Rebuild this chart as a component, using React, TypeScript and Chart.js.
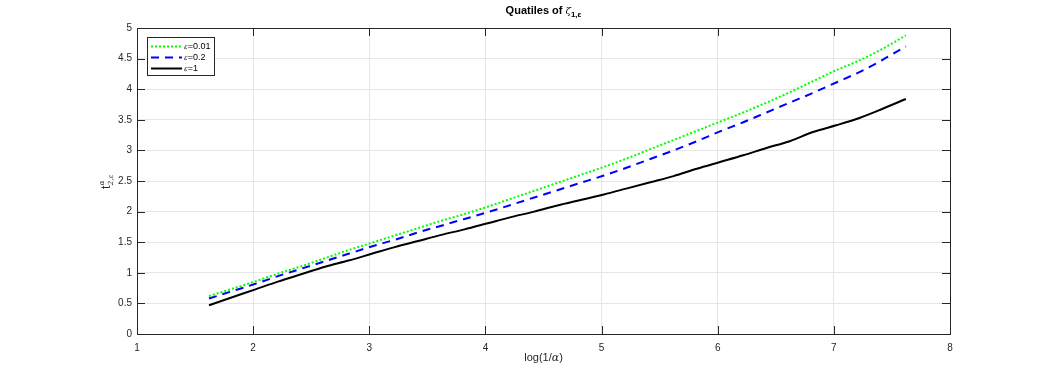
import React, { useEffect, useRef } from "react";
import { Chart, registerables } from "chart.js";

Chart.register(...registerables);

const xValues = [1.62, 1.82, 2.02, 2.22, 2.42, 2.62, 2.82, 3.02, 3.22, 3.42, 3.62, 3.82, 4.02, 4.22, 4.42, 4.62, 4.82, 5.02, 5.22, 5.42, 5.62, 5.82, 6.02, 6.22, 6.42, 6.62, 6.82, 7.02, 7.22, 7.42, 7.62];
const eps001 = [0.62, 0.74, 0.86, 0.99, 1.11, 1.24, 1.37, 1.49, 1.61, 1.73, 1.85, 1.96, 2.08, 2.21, 2.34, 2.47, 2.6, 2.73, 2.87, 3.02, 3.17, 3.32, 3.47, 3.62, 3.78, 3.95, 4.13, 4.31, 4.47, 4.66, 4.88];
const eps02 = [0.58, 0.7, 0.82, 0.95, 1.07, 1.19, 1.31, 1.43, 1.54, 1.66, 1.77, 1.88, 1.99, 2.11, 2.23, 2.35, 2.47, 2.59, 2.72, 2.86, 3.0, 3.15, 3.31, 3.46, 3.62, 3.78, 3.94, 4.11, 4.28, 4.48, 4.7];
const eps1 = [0.47, 0.6, 0.73, 0.86, 0.98, 1.1, 1.2, 1.31, 1.42, 1.52, 1.62, 1.71, 1.81, 1.91, 2.0, 2.1, 2.19, 2.28, 2.38, 2.48, 2.58, 2.7, 2.81, 2.92, 3.04, 3.15, 3.3, 3.41, 3.53, 3.68, 3.84];
const seriesLabels = ["0.01", "0.2", "1"];
const xTicks = [1, 2, 3, 4, 5, 6, 7, 8];
const yTicks = [0, 0.5, 1, 1.5, 2, 2.5, 3, 3.5, 4, 4.5, 5];

const FONT = "'Liberation Sans', Arial, Helvetica, sans-serif";
const colors = ["#00ff00", "#0000ff", "#000000"];
const dashes = [[2, 2], [8, 6], []];

const decor = {
  id: "decor",
  afterDraw(chart: any) {
    const ctx = chart.ctx as CanvasRenderingContext2D;
    const { left, right, top, bottom } = chart.chartArea;
    const xs = chart.scales.x;
    const ys = chart.scales.y;
    ctx.save();
    // box
    ctx.strokeStyle = "#262626";
    ctx.lineWidth = 1;
    ctx.strokeRect(left + 0.5, top + 0.5, right - left, bottom - top);
    // inner ticks
    ctx.beginPath();
    xTicks.forEach((v) => {
      const px = Math.round(xs.getPixelForValue(v)) + 0.5;
      ctx.moveTo(px, bottom);
      ctx.lineTo(px, bottom - 8);
      ctx.moveTo(px, top);
      ctx.lineTo(px, top + 8);
    });
    yTicks.forEach((v) => {
      const py = Math.round(ys.getPixelForValue(v)) + 0.5;
      ctx.moveTo(left, py);
      ctx.lineTo(left + 8, py);
      ctx.moveTo(right, py);
      ctx.lineTo(right - 8, py);
    });
    ctx.stroke();

    // title
    const cx = (left + right) / 2;
    ctx.fillStyle = "#000";
    ctx.textBaseline = "alphabetic";
    ctx.font = `bold 11px ${FONT}`;
    const t1 = "Quatiles of ";
    const w1 = ctx.measureText(t1).width;
    ctx.font = `italic 10px 'DejaVu Serif', serif`;
    const wz = ctx.measureText("ζ").width;
    ctx.font = `bold 8px ${FONT}`;
    const wsub = ctx.measureText("1,ε").width;
    let tx = cx - (w1 + wz + wsub) / 2;
    ctx.font = `bold 11px ${FONT}`;
    ctx.fillText(t1, tx, 14);
    tx += w1;
    ctx.font = `italic 10px 'DejaVu Serif', serif`;
    ctx.fillText("ζ", tx, 14);
    tx += wz;
    ctx.font = `bold 8px ${FONT}`;
    ctx.fillText("1,ε", tx, 17);

    // x label
    ctx.fillStyle = "#262626";
    const a = "log(1/";
    const b = "α";
    const c = ")";
    ctx.font = `11px ${FONT}`;
    const wa = ctx.measureText(a).width;
    const wc = ctx.measureText(c).width;
    ctx.font = `italic 11px 'DejaVu Serif', serif`;
    const wb = ctx.measureText(b).width;
    let lx = cx - (wa + wb + wc) / 2;
    ctx.font = `11px ${FONT}`;
    ctx.fillText(a, lx, 361);
    lx += wa;
    ctx.font = `italic 11px 'DejaVu Serif', serif`;
    ctx.fillText(b, lx, 361);
    lx += wb;
    ctx.font = `11px ${FONT}`;
    ctx.fillText(c, lx, 361);

    // y label (rotated)
    ctx.save();
    ctx.translate(110, (top + bottom) / 2 + 8);
    ctx.rotate(-Math.PI / 2);
    ctx.font = `12px ${FONT}`;
    ctx.fillText("t", 0, 0);
    const wt = ctx.measureText("t").width;
    ctx.font = `italic 7px 'DejaVu Serif', serif`;
    ctx.fillText("α", wt + 0.5, -6);
    ctx.fillText("2,ε", wt + 0.5, 3);
    ctx.restore();

    // legend
    const lgx = 147, lgy = 37, lgw = 67, lgh = 38;
    ctx.fillStyle = "#fff";
    ctx.fillRect(lgx, lgy, lgw, lgh);
    ctx.strokeStyle = "#262626";
    ctx.lineWidth = 1;
    ctx.strokeRect(lgx + 0.5, lgy + 0.5, lgw, lgh);
    seriesLabels.forEach((lab, i) => {
      const yy = lgy + 9.5 + i * 11;
      ctx.beginPath();
      ctx.strokeStyle = colors[i];
      ctx.lineWidth = 2;
      ctx.setLineDash(dashes[i]);
      ctx.moveTo(lgx + 4, yy);
      ctx.lineTo(lgx + 35, yy);
      ctx.stroke();
      ctx.setLineDash([]);
      ctx.fillStyle = "#000";
      ctx.font = `italic 7px 'DejaVu Serif', serif`;
      ctx.textBaseline = "middle";
      ctx.fillText("ε", lgx + 37, yy + 1);
      const we = ctx.measureText("ε").width;
      ctx.font = `9px ${FONT}`;
      ctx.fillText("=" + lab, lgx + 37 + we, yy);
    });
    ctx.restore();
  },
};

export default function App() {
  const ref = useRef<HTMLCanvasElement>(null);
  useEffect(() => {
    document.body.style.margin = "0";
    const mk = (vals: number[]) => xValues.map((x, i) => ({ x, y: vals[i] }));
    const chart = new Chart(ref.current!, {
      type: "line",
      data: {
        datasets: [eps001, eps02, eps1].map((vals, i) => ({
          label: "ε=" + seriesLabels[i],
          data: mk(vals),
          borderColor: colors[i],
          borderWidth: 2,
          borderDash: dashes[i],
          pointRadius: 0,
          cubicInterpolationMode: "monotone" as const,
          fill: false,
        })),
      },
      options: {
        animation: false,
        responsive: false,
        maintainAspectRatio: false,
        layout: { padding: { left: 0, right: 100, top: 28, bottom: 0 } },
        plugins: { legend: { display: false }, title: { display: false }, tooltip: { enabled: false } },
        scales: {
          x: {
            type: "linear",
            min: 1,
            max: 8,
            afterBuildTicks: (s: any) => { s.ticks = xTicks.map((v) => ({ value: v })); },
            afterFit: (s: any) => { s.height = 41; },
            grid: { color: "#e6e6e6", drawTicks: false },
            border: { display: false },
            ticks: { padding: 8, color: "#262626", font: { family: FONT, size: 10 }, maxRotation: 0, callback: (v: any) => String(v) },
          },
          y: {
            type: "linear",
            min: 0,
            max: 5,
            afterBuildTicks: (s: any) => { s.ticks = yTicks.map((v) => ({ value: v })); },
            afterFit: (s: any) => { s.width = 137; },
            grid: { color: "#e6e6e6", drawTicks: false },
            border: { display: false },
            ticks: { padding: 5, color: "#262626", font: { family: FONT, size: 10 }, callback: (v: any) => String(v) },
          },
        },
      },
      plugins: [decor],
    });
    return () => chart.destroy();
  }, []);
  return (
    <div style={{ width: 1050, height: 375, background: "#fff" }}>
      <canvas ref={ref} width={1050} height={375} style={{ width: 1050, height: 375, display: "block" }} />
    </div>
  );
}
